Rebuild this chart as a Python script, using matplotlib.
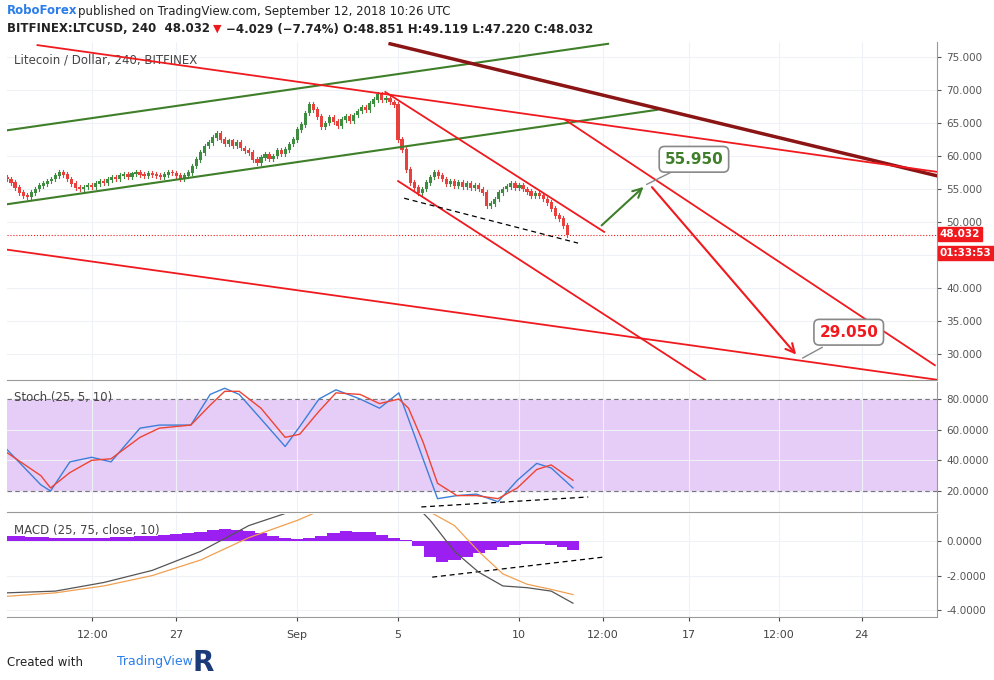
import numpy as np
import matplotlib.pyplot as plt

# x is measured in days from Sep 1 (4h candles)
closes = [56.5, 56, 55.2, 54.5, 54, 53.8, 54.5, 55, 55.5, 55.8, 56.2, 56.5,
          57, 57.5, 57.2, 56.5, 55.8, 55.2, 55, 55.3, 55.6, 55.4, 55.8, 56.2,
          56, 56.4, 56.8, 56.5, 57, 57.2, 56.8, 57.3, 57.6, 57.2, 57, 57.4,
          57.2, 57, 56.8, 57.2, 57.6, 57.4, 57, 56.6, 57, 57.5, 58.5, 59.5,
          60.5, 61.5, 62, 62.8, 63.5, 62.5, 61.8, 62.3, 61.5, 62, 61.2, 60.8,
          60.5, 59.5, 59, 59.8, 60.2, 59.6, 60, 60.8, 60.4, 61, 61.8, 62.5,
          64, 64.8, 66.5, 67.8, 67, 66, 64.5, 65, 65.8, 65.2, 64.6, 65.5,
          66, 65.4, 66.2, 66.8, 67.4, 67, 68, 68.6, 69.3, 68.5, 68.8, 68.2,
          67.8, 62.5, 61, 58, 56, 55.2, 54.5, 55, 56, 56.8, 57.5, 57,
          56.5, 55.8, 56.2, 55.5, 56, 55.4, 55.8, 55.2, 55.6, 55, 54.5, 52.5,
          52.8, 53.5, 54.5, 55, 55.4, 55.8, 55.2, 55.6, 55, 54.6, 54, 54.4,
          54, 53.5, 53, 52, 51, 50.5, 49.5, 48.032]
first_open = 56.8
last_price = 48.032

stoch_x = [-12, -10.6, -10.2, -9.4, -8.5, -7.7, -6.5, -5.7, -4.4, -3.6, -3.0, -2.4, -1.5, -0.5, 0.1, 0.9, 1.6, 2.6, 3.4, 4.2, 4.6, 5.2, 5.8, 6.6, 7.4, 8.3, 9.1, 9.9, 10.5, 11.4]
stoch_k = [47, 24, 20, 39, 42, 39, 61, 63, 63, 83, 87, 83, 67, 49, 62, 80, 86, 80, 74, 84, 67, 41, 15, 17, 18, 13, 27, 38, 35, 22]
stoch_d = [45, 30, 22, 32, 40, 41, 55, 61, 63, 76, 85, 85, 74, 55, 57, 72, 84, 83, 77, 80, 74, 52, 25, 17, 17, 15, 22, 34, 37, 27]

macd_x = [-12, -10, -8, -6, -4, -2, -0.5, 0.5, 4.8, 5.5, 6.5, 7.5, 8.5, 9.5, 10.5, 11.4]
macd_line = [-3.0, -2.9, -2.4, -1.7, -0.6, 0.9, 1.6, 2.2, 2.2, 1.2, -0.6, -1.8, -2.6, -2.7, -2.9, -3.6]
sig_x = [-12, -10, -8, -6, -4, -2, 0, 1, 5.6, 6.5, 7.5, 8.5, 9.5, 10.5, 11.4]
sig_line = [-3.2, -3.0, -2.6, -2.0, -1.1, 0.2, 1.2, 1.8, 1.6, 0.9, -0.6, -1.9, -2.5, -2.8, -3.1]
hist_x = [-12, -11.5, -11, -10.5, -10, -9.5, -9, -8.5, -8, -7.5, -7, -6.5, -6, -5.5, -5, -4.5, -4, -3.5, -3, -2.5, -2, -1.5, -1, -0.5, 0, 0.5, 1, 1.5, 2, 2.5, 3, 3.5, 4, 4.5,
          5, 5.5, 6, 6.5, 7, 7.5, 8, 8.5, 9, 9.5, 10, 10.5, 11, 11.4]
hist_v = [0.3, 0.28, 0.25, 0.22, 0.2, 0.18, 0.15, 0.17, 0.2, 0.22, 0.25, 0.28, 0.3, 0.35, 0.4, 0.48, 0.55, 0.62, 0.7, 0.65, 0.6, 0.45, 0.3, 0.2, 0.1, 0.2, 0.3, 0.45, 0.6, 0.55, 0.5, 0.35, 0.2, 0.05,
          -0.3, -0.9, -1.2, -1.1, -0.9, -0.7, -0.5, -0.35, -0.25, -0.15, -0.15, -0.2, -0.35, -0.5]

date_pos = [-8.47, -5.0, 0.0, 4.17, 9.17, 12.64, 16.2, 19.9, 23.33]
date_lbl = ['12:00', '27', 'Sep', '5', '10', '12:00', '17', '12:00', '24']

W, H = 995, 680
fig = plt.figure(figsize=(W / 100, H / 100), dpi=100)
fig.patch.set_facecolor('white')


def ax_at(top, bottom):
    return fig.add_axes([7 / W, 1 - bottom / H, 930 / W, (bottom - top) / H])


XL = (-12.0, 26.45)
grid_c = '#eef1f6'
up_c, dn_c = '#3d8c40', '#e8403c'

ax = ax_at(42, 380)
ax.set_xlim(*XL)
ax.set_ylim(75 - (380 - 57) / 6.6, 75 + 15 / 6.6)
n = len(closes)
xs = -12 + np.arange(n) / 6
opens = [first_open] + closes[:-1]
for i in range(n):
    o, c = opens[i], closes[i]
    col = up_c if c >= o else dn_c
    hi, lo = max(o, c) + 0.35, min(o, c) - 0.35
    ax.plot([xs[i], xs[i]], [lo, hi], color=col, lw=0.8, zorder=3)
    ax.bar(xs[i], abs(c - o) + 0.1, bottom=min(o, c) - 0.05, width=0.13, color=col, zorder=4)

red = '#f0191e'
lines = [((-11.98, 63.9), (12.85, 77.0), '#3f7f2a', 1.5),
         ((-11.98, 52.7), (14.88, 67.0), '#3f7f2a', 1.5),
         ((3.84, 77.0), (26.45, 57.0), '#8b1414', 2.5),
         ((-10.74, 76.8), (26.45, 57.6), red, 1.3),
         ((-11.98, 45.8), (26.45, 26.1), red, 1.3),
         ((3.64, 69.7), (12.69, 48.5), red, 1.3),
         ((4.17, 56.2), (16.86, 26.1), red, 1.3),
         ((11.07, 65.5), (26.36, 28.3), red, 1.3)]
for (x0, y0), (x1, y1), c, lw in lines:
    ax.plot([x0, x1], [y0, y1], color=c, lw=lw, zorder=5)
ax.plot([4.42, 11.61], [53.6, 46.8], color='black', lw=0.9, ls=(0, (4, 3)), zorder=5)
ax.annotate('', xy=(14.4, 55.6), xytext=(12.5, 49.2),
            arrowprops=dict(arrowstyle='->', color='#3f7f2a', lw=1.5, mutation_scale=16), zorder=6)
ax.annotate('', xy=(20.7, 29.6), xytext=(14.59, 55.6),
            arrowprops=dict(arrowstyle='->', color=red, lw=1.5, mutation_scale=16), zorder=6)
ax.axhline(last_price, color=red, lw=0.8, ls=':', zorder=2)
ax.plot([14.45, 15.6], [55.7, 57.8], color='#888', lw=1, zorder=6)
ax.text(16.4, 59.5, '55.950', color='#3f7f2a', fontsize=11, weight='bold', ha='center', va='center',
        bbox=dict(boxstyle='round,pad=0.35', fc='white', ec='#888', lw=1.2), zorder=7)
ax.plot([20.9, 21.7], [29.4, 31.0], color='#888', lw=1, zorder=6)
ax.text(22.8, 33.3, '29.050', color=red, fontsize=11, weight='bold', ha='center', va='center',
        bbox=dict(boxstyle='round,pad=0.35', fc='white', ec='#888', lw=1.2), zorder=7)
ax.text(0.008, 0.965, 'Litecoin / Dollar, 240, BITFINEX', transform=ax.transAxes, fontsize=8.5,
        color='#444', va='top')
yt = np.arange(30, 80, 5)
ax.set_yticks(yt)
# 45.000 is covered by the countdown box in the original
ax.set_yticklabels(['' if v == 45 else '%.3f' % v for v in yt])
ylo, yhi = ax.get_ylim()
ax.text(1.003, (last_price + 0.1 - ylo) / (yhi - ylo), '48.032', transform=ax.transAxes,
        fontsize=7.5, color='white', weight='bold', va='center', ha='left',
        bbox=dict(boxstyle='square,pad=0.2', fc=red, ec=red))
ax.text(1.003, (last_price - 2.75 - ylo) / (yhi - ylo), '01:33:53', transform=ax.transAxes,
        fontsize=7.5, color='white', weight='bold', va='center', ha='left',
        bbox=dict(boxstyle='square,pad=0.2', fc=red, ec=red))

ax2 = ax_at(382, 512)
ax2.set_xlim(*XL)
ax2.set_ylim(20 - 21 / 1.533, 80 + 17 / 1.533)
ax2.axhspan(20, 80, color='#e6cdf7', zorder=0)
ax2.axhline(80, color='#777', lw=0.8, ls=(0, (4, 3)))
ax2.axhline(20, color='#777', lw=0.8, ls=(0, (4, 3)))
ax2.plot(stoch_x, stoch_k, color='#3d7fd8', lw=1)
ax2.plot(stoch_x, stoch_d, color='#ee4433', lw=1)
ax2.plot([5.13, 12.03], [9.6, 16.1], color='black', lw=0.9, ls=(0, (4, 3)))
ax2.text(0.008, 0.93, 'Stoch (25, 5, 10)', transform=ax2.transAxes, fontsize=8.5, color='#444', va='top')
ax2.set_yticks([20, 40, 60, 80])
ax2.set_yticklabels(['20.0000', '40.0000', '60.0000', '80.0000'])

ax3 = ax_at(514, 617)
ax3.set_xlim(*XL)
ax3.set_ylim(-4.4, 1.57)
ax3.bar(hist_x, hist_v, width=0.5, color='#9b1ff0', zorder=2)
ax3.plot(macd_x, macd_line, color='#555', lw=0.9, zorder=3)
ax3.plot(sig_x, sig_line, color='#f0a050', lw=0.9, zorder=3)
ax3.plot([5.58, 12.65], [-2.09, -0.93], color='black', lw=0.9, ls=(0, (4, 3)))
ax3.text(0.008, 0.9, 'MACD (25, 75, close, 10)', transform=ax3.transAxes, fontsize=8.5, color='#444', va='top')
ax3.set_yticks([-4, -2, 0])
ax3.set_yticklabels(['-4.0000', '-2.0000', '0.0000'])

for a in (ax, ax2, ax3):
    a.yaxis.tick_right()
    a.tick_params(axis='y', labelsize=7.5, colors='#555', length=3)
    a.set_xticks(date_pos)
    a.grid(color=grid_c, lw=0.8)
    a.set_axisbelow(True)
    for s in a.spines.values():
        s.set_color('#999')
    a.spines['top'].set_visible(False)
    a.spines['left'].set_visible(False)
for a in (ax, ax2):
    a.tick_params(axis='x', labelbottom=False, length=0)
ax3.set_xticklabels(date_lbl)
ax3.tick_params(axis='x', labelsize=8, colors='#444', length=3, pad=6)

fig.text(7 / W, 1 - 11 / H, 'RoboForex', color='#2b7de9', weight='bold', fontsize=8.5, va='center')
fig.text(78 / W, 1 - 11 / H, 'published on TradingView.com, September 12, 2018 10:26 UTC',
         color='#222', fontsize=8.5, va='center')
fig.text(7 / W, 1 - 29 / H, 'BITFINEX:LTCUSD, 240  48.032', color='#222', weight='bold', fontsize=8.5, va='center')
fig.text(213 / W, 1 - 29 / H, '\u25bc', color=red, fontsize=8, va='center')
fig.text(226 / W, 1 - 29 / H, '\u22124.029 (\u22127.74%) O:48.851 H:49.119 L:47.220 C:48.032',
         color='#222', weight='bold', fontsize=8.5, va='center')
fig.text(7 / W, 1 - 662 / H, 'Created with', color='#222', fontsize=8.5, va='center')
fig.text(117 / W, 1 - 662 / H, 'TradingView', color='#2b7de9', fontsize=9, va='center')
fig.text(193 / W, 1 - 663 / H, 'R', color='#1a3a7a', fontsize=20, weight='bold', va='center')

fig.savefig('out.png', dpi=100)
